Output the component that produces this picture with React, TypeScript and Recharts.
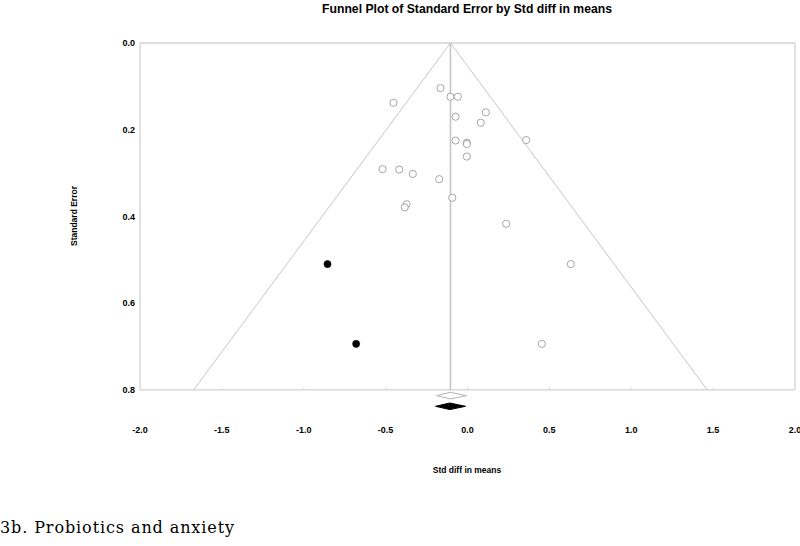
import React from 'react';
import { ScatterChart, Scatter, XAxis, YAxis, ReferenceLine } from 'recharts';

// Observed studies (Std diff in means, Standard Error)
const observedDiff = [-0.165, -0.452, -0.104, -0.059, 0.112, -0.073, 0.081, -0.073, -0.004, -0.004, 0.358, -0.004, -0.519, -0.417, -0.334, -0.173, -0.093, -0.372, -0.383, 0.236, 0.631, 0.454];
const observedSE = [0.104, 0.138, 0.124, 0.124, 0.160, 0.170, 0.184, 0.225, 0.230, 0.233, 0.224, 0.262, 0.291, 0.292, 0.302, 0.314, 0.357, 0.372, 0.379, 0.417, 0.510, 0.694];

// Imputed studies (trim and fill)
const imputedDiff = [-0.855, -0.680];
const imputedSE = [0.510, 0.694];

// Pooled estimates: [lower, mean, upper]
const observedPooled = [-0.189, -0.104, -0.006];
const adjustedPooled = [-0.195, -0.108, -0.012];
// diamond rows (vertical position below axis) and half-height, in SE units
const diamondRows = [0.8134, 0.838];
const diamondHalf = 0.0076;

// Funnel (95% limits at SE = 0.8)
const funnelApexSE = 0;
const funnelBaseSE = 0.8;
const funnelBase = [-1.672, 1.464];

const xTicks = [-2.0, -1.5, -1.0, -0.5, 0.0, 0.5, 1.0, 1.5, 2.0];
const yTicks = [0.0, 0.2, 0.4, 0.6, 0.8];

const observedData = observedDiff.map((x, i) => ({ x, y: observedSE[i] }));
const imputedData = imputedDiff.map((x, i) => ({ x, y: imputedSE[i] }));
const diamond = (ci: number[], row: number) => [
  { x: ci[0], y: row },
  { x: ci[1], y: row - diamondHalf },
  { x: ci[2], y: row },
  { x: ci[1], y: row + diamondHalf },
  { x: ci[0], y: row },
];
const observedDiamond = diamond(observedPooled, diamondRows[0]);
const adjustedDiamond = diamond(adjustedPooled, diamondRows[1]);

const FRAME = '#d2d2d2';
const FUNNEL = '#c6c6c6';
const FONT = '"Liberation Sans", Arial, sans-serif';

const OpenDot = (p: any) => (
  <circle cx={p.cx} cy={p.cy} r={3.6} fill="#fff" stroke="#a6a6a6" strokeWidth={1} />
);
const FilledDot = (p: any) => <circle cx={p.cx} cy={p.cy} r={3.6} fill="#000" stroke="#000" strokeWidth={0.5} />;
const NoDot = () => <g />;

const tickStyle = { fontFamily: FONT, fontSize: 9, fontWeight: 700, fill: '#000' };

export default function App() {
  const mean = observedPooled[1];
  return (
    <div style={{ position: 'absolute', left: 0, top: 0, width: 800, height: 546, background: '#fff', fontFamily: FONT }}>
      <div style={{ position: 'absolute', left: 217, width: 500, top: 2, textAlign: 'center', fontSize: 12.2, fontWeight: 700, color: '#000' }}>
        Funnel Plot of Standard Error by Std diff in means
      </div>
      <ScatterChart width={800} height={546} margin={{ top: 43, right: 5, bottom: 104.5, left: 80 }}>
        <XAxis
          type="number"
          dataKey="x"
          domain={[-2, 2]}
          ticks={xTicks}
          tickFormatter={(v: number) => v.toFixed(1)}
          axisLine={false}
          tickLine={false}
          tickSize={13}
          tickMargin={2}
          height={30}
          tick={tickStyle}
          interval={0}
        />
        <YAxis
          type="number"
          dataKey="y"
          domain={[0, 0.85]}
          reversed
          ticks={yTicks}
          tickFormatter={(v: number) => v.toFixed(1)}
          axisLine={false}
          tickLine={false}
          tickSize={3}
          tickMargin={2}
          width={60}
          tick={tickStyle}
          interval={0}
        />
        {/* plot frame */}
        <ReferenceLine segment={[{ x: -2, y: 0 }, { x: 2, y: 0 }]} stroke={FRAME} strokeWidth={1.3} ifOverflow="visible" />
        <ReferenceLine segment={[{ x: -2, y: 0 }, { x: -2, y: 0.8 }]} stroke={FRAME} strokeWidth={1.3} ifOverflow="visible" />
        <ReferenceLine segment={[{ x: 2, y: 0 }, { x: 2, y: 0.8 }]} stroke={FRAME} strokeWidth={1.3} ifOverflow="visible" />
        <ReferenceLine segment={[{ x: -2, y: 0.8 }, { x: 2, y: 0.8 }]} stroke={FRAME} strokeWidth={1.3} ifOverflow="visible" />
        {xTicks.slice(1, -1).map((t) => (
          <ReferenceLine key={t} segment={[{ x: t, y: 0.795 }, { x: t, y: 0.8 }]} stroke={FRAME} strokeWidth={1} ifOverflow="visible" />
        ))}
        {/* funnel */}
        <ReferenceLine segment={[{ x: mean, y: funnelApexSE }, { x: funnelBase[0], y: funnelBaseSE }]} stroke={FUNNEL} strokeWidth={1} ifOverflow="visible" />
        <ReferenceLine segment={[{ x: mean, y: funnelApexSE }, { x: funnelBase[1], y: funnelBaseSE }]} stroke={FUNNEL} strokeWidth={1} ifOverflow="visible" />
        <ReferenceLine segment={[{ x: mean, y: funnelApexSE }, { x: mean, y: funnelBaseSE }]} stroke={FUNNEL} strokeWidth={1.6} ifOverflow="visible" />
        <Scatter data={observedData} shape={OpenDot} isAnimationActive={false} />
        <Scatter data={imputedData} shape={FilledDot} isAnimationActive={false} />
        <Scatter
          data={observedDiamond}
          shape={NoDot}
          line={{ stroke: '#b4b4b4', fill: '#fff', strokeWidth: 1 }}
          lineType="joint"
          isAnimationActive={false}
        />
        <Scatter
          data={adjustedDiamond}
          shape={NoDot}
          line={{ stroke: '#000', fill: '#000', strokeWidth: 1 }}
          lineType="joint"
          isAnimationActive={false}
        />
      </ScatterChart>
      <div
        style={{
          position: 'absolute',
          left: 74,
          top: 216,
          transform: 'translate(-50%, -50%) rotate(-90deg)',
          fontSize: 8.5,
          fontWeight: 700,
          whiteSpace: 'nowrap',
          color: '#000',
        }}
      >
        Standard Error
      </div>
      <div style={{ position: 'absolute', left: 367, width: 200, top: 465, textAlign: 'center', fontSize: 8.5, fontWeight: 700, color: '#000' }}>
        Std diff in means
      </div>
      <div style={{ position: 'absolute', left: 0, top: 518, fontFamily: '"DejaVu Serif", serif', fontSize: 16, letterSpacing: 0.9, color: '#000', whiteSpace: 'nowrap' }}>
        3b. Probiotics and anxiety
      </div>
    </div>
  );
}
